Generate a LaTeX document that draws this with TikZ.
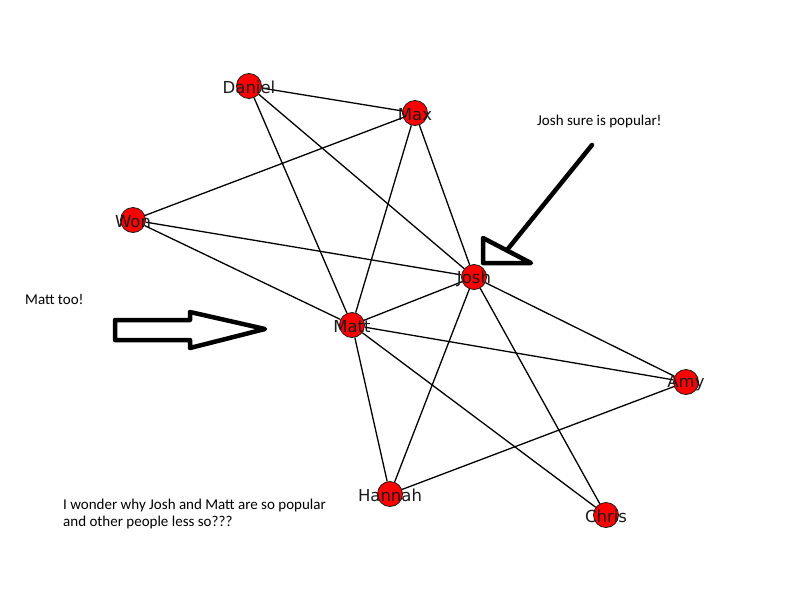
\documentclass[tikz,border=0pt]{standalone}
\usepackage{fontspec}
\setmainfont{DejaVu Sans}
\newfontfamily\notefont{Carlito}
\usetikzlibrary{positioning, backgrounds}
\definecolor{nodered}{HTML}{FF0000}
\definecolor{inkdark}{HTML}{1A1A1A}

\begin{document}
\begin{tikzpicture}[x=1pt, y=-1pt,
  person/.style={circle, fill=nodered, draw=inkdark, line width=0.8pt, minimum size=25pt, inner sep=0pt,
    label={[font=\fontsize{16.5}{16.5}\selectfont, text=inkdark, yshift=-1.5pt]center:#1}},
  tie/.style={line width=1.3pt, draw=black},
  note/.style={font=\notefont\fontsize{15}{17}\selectfont, anchor=west, align=left, inner sep=0pt},
  boldarrow/.style={line width=4.5pt, line join=round, draw=black}]
  \useasboundingbox (0,0) rectangle (800,600);

  % People
  \node[person=Daniel] (daniel) at (249,86) {};
  \node[person=Max] (max) at (415,113) {};
  \node[person=Won] (won) at (133,220) {};
  \node[person=Josh] (josh) at (474,277) {};
  \node[person=Matt] (matt) at (352,325) {};
  \node[person=Amy] (amy) at (686,382) {};
  \node[person=Hannah] (hannah) at (390,494) {};
  \node[person=Chris] (chris) at (606,515) {};

  % Friendships - behind the circles
  \begin{scope}[on background layer]
    \draw[tie] (daniel) -- (max);
    \draw[tie] (daniel) -- (josh);
    \draw[tie] (daniel) -- (matt);
    \draw[tie] (max) -- (won);
    \draw[tie] (max) -- (josh);
    \draw[tie] (max) -- (matt);
    \draw[tie] (won) -- (josh);
    \draw[tie] (won) -- (matt);
    \draw[tie] (josh) -- (matt);
    \draw[tie] (josh) -- (amy);
    \draw[tie] (josh) -- (hannah);
    \draw[tie] (josh) -- (chris);
    \draw[tie] (matt) -- (amy);
    \draw[tie] (matt) -- (hannah);
    \draw[tie] (matt) -- (chris);
    \draw[tie] (hannah) -- (amy);
  \end{scope}

  % Annotations
  \node[note] (joshnote) at (537,121) {Josh sure is popular!};
  \node[note] (mattnote) at (25,299) {Matt too!};
  \node[note] (wondernote) at (63,514) {I wonder why Josh and Matt are so popular\\and other people less so???};

  % Hand-drawn arrow pointing at Josh
  \coordinate (joshtail) at (592,145);
  \coordinate (joshhead) at (507,250);
  \draw[boldarrow, line cap=round] (joshtail) -- (joshhead);
  \draw[boldarrow] (483,238) -- (483,263) -- (531,263) -- cycle;

  % Block arrow pointing at Matt
  \draw[boldarrow] (115,320) -- (190,320) -- (190,312) -- (265,329) -- (190,348) -- (190,340) -- (115,340) -- cycle;
\end{tikzpicture}
\end{document}
